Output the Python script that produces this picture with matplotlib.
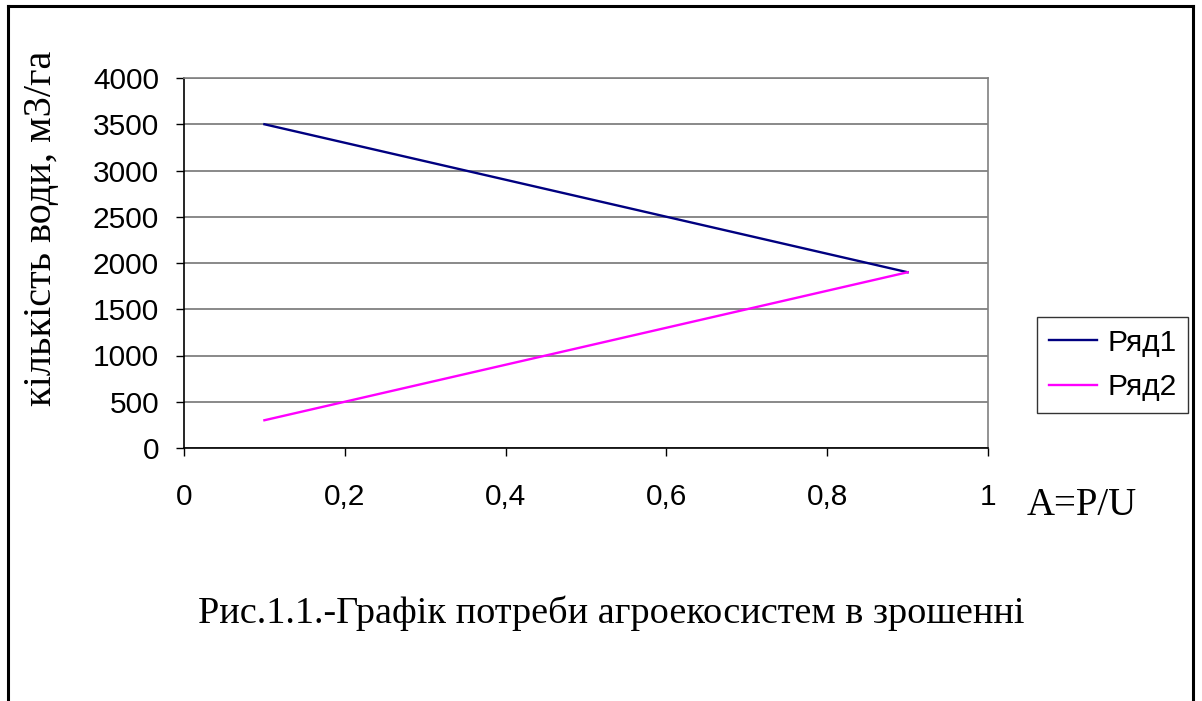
import matplotlib.pyplot as plt
from matplotlib.lines import Line2D

# data
x_vals = [0.1, 0.2, 0.3, 0.4, 0.5, 0.6, 0.7, 0.8, 0.9]
row1 = [3500, 3300, 3100, 2900, 2700, 2500, 2300, 2100, 1900]
row2 = [300, 500, 700, 900, 1100, 1300, 1500, 1700, 1900]
series_names = ['Ряд1', 'Ряд2']
x_ticks = [0, 0.2, 0.4, 0.6, 0.8, 1]
x_tick_labels = ['0', '0,2', '0,4', '0,6', '0,8', '1']
y_ticks = [0, 500, 1000, 1500, 2000, 2500, 3000, 3500, 4000]

W, H = 1202, 701
fig = plt.figure(figsize=(W / 100, H / 100), dpi=100)

# outer frame (left, top, right only)
fig.add_artist(Line2D([8 / W, 8 / W], [0, 1 - 6 / H], color='black', lw=2.2))
fig.add_artist(Line2D([8 / W, 1193 / W], [1 - 6 / H, 1 - 6 / H], color='black', lw=2.2))
fig.add_artist(Line2D([1193 / W, 1193 / W], [1 - 6 / H, 0], color='black', lw=2.2))

ax = fig.add_axes([184 / W, 1 - 448 / H, (988 - 184) / W, (448 - 78) / H])
ax.plot(x_vals, row1, color='#000080', lw=1.7, label=series_names[0])
ax.plot(x_vals, row2, color='#FF00FF', lw=1.7, label=series_names[1])

ax.set_xlim(0, 1)
ax.set_ylim(0, 4000)
ax.set_xticks(x_ticks)
ax.set_xticklabels(x_tick_labels)
ax.set_yticks(y_ticks)
ax.yaxis.grid(True, color='#808080', lw=1.3)
ax.set_axisbelow(True)

for lab in ax.get_xticklabels() + ax.get_yticklabels():
    lab.set_family('Liberation Sans')
    lab.set_fontsize(21.5)
ax.tick_params(axis='both', direction='out', length=6, width=1, color='black')
ax.tick_params(axis='x', pad=19)
ax.tick_params(axis='y', pad=12)

ax.spines['left'].set_color('black')
ax.spines['bottom'].set_color('black')
ax.spines['top'].set_color('#808080')
ax.spines['right'].set_color('#808080')
for s in ax.spines.values():
    s.set_linewidth(1.2)

leg = fig.legend(loc='upper left', bbox_to_anchor=(1037 / W, 1 - 317 / H),
                 prop={'family': 'Liberation Sans', 'size': 21.5},
                 frameon=True, fancybox=False, handlelength=1.6,
                 handletextpad=0.35, borderpad=0.4, labelspacing=0.55,
                 borderaxespad=0)
leg.get_frame().set_edgecolor('black')
leg.get_frame().set_linewidth(1.0)

fig.text(42 / W, 1 - 228 / H, 'кількість води, м3/га', rotation=90,
         ha='center', va='center', family='Liberation Serif', fontsize=29)
fig.text(1027 / W, 1 - 515 / H, 'A=P/U', ha='left', va='baseline',
         family='Liberation Serif', fontsize=28)
fig.text(198 / W, 1 - 623 / H, 'Рис.1.1.-Графік потреби агроекосистем в зрошенні',
         ha='left', va='baseline', family='Liberation Serif', fontsize=27.5)

fig.savefig('out.png', dpi=100)
